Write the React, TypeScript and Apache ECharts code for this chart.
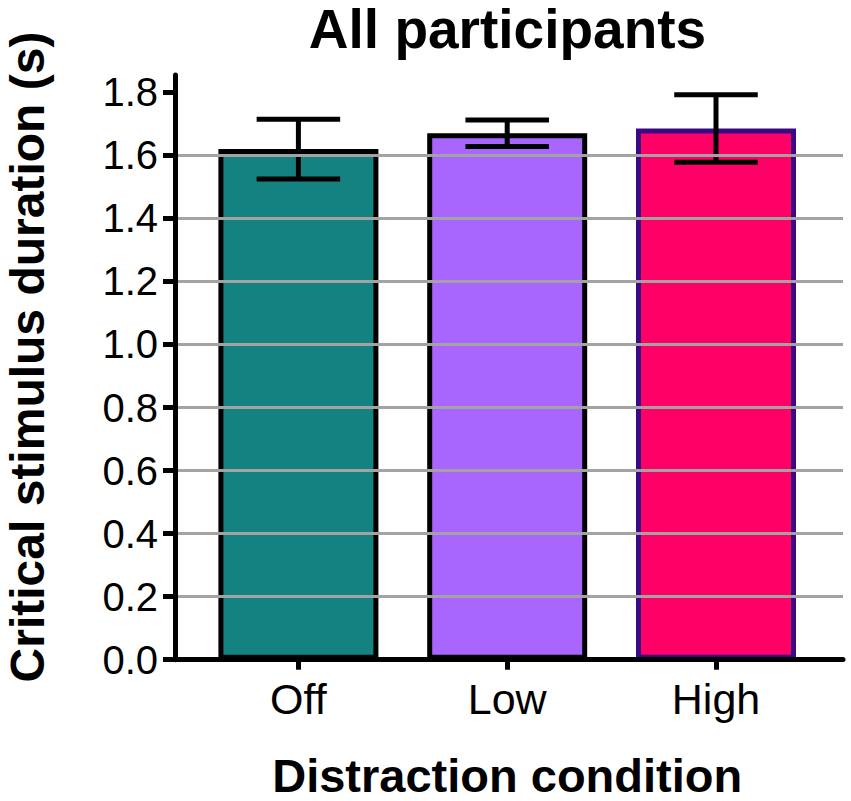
import React, { useEffect, useRef } from "react";
import * as echarts from "echarts";

const categories = ["Off", "Low", "High"];
const meanValues = [1.62, 1.67, 1.685];
const errorValues = [0.095, 0.042, 0.107];
const barColors = ["#138280", "#A966FF", "#FF0066"];
const barBorderColors = ["#000000", "#000000", "#3A0A84"];
const yTickValues = [0, 0.2, 0.4, 0.6, 0.8, 1.0, 1.2, 1.4, 1.6, 1.8];
const yMin = 0;
const yMax = 1.855;
const titleText = "All participants";
const xAxisTitle = "Distraction condition";
const yAxisTitle = "Critical stimulus duration (s)";

const FONT = "'Liberation Sans', Arial, Helvetica, sans-serif";

export default function App() {
  const ref = useRef<HTMLDivElement>(null);

  useEffect(() => {
    if (!ref.current) return;
    const chart = echarts.init(ref.current, undefined, { renderer: "svg" });

    const barData = meanValues.map((v, i) => ({
      value: v,
      itemStyle: {
        color: barColors[i],
        borderColor: barBorderColors[i],
        borderWidth: 5,
      },
    }));

    const errData = meanValues.map((v, i) => [i, v - errorValues[i], v + errorValues[i]]);

    const option: any = {
      animation: false,
      backgroundColor: "#ffffff",
      title: {
        text: titleText,
        left: 507.5,
        top: 1,
        padding: 0,
        textAlign: "center",
        textStyle: { fontFamily: FONT, fontWeight: "bold", fontSize: 55, color: "#000" },
      },
      grid: [
        { left: 194, right: 30.6, top: 75, bottom: 141.3, outerBoundsMode: "none", containLabel: false },
        { left: 175, right: 8, top: 75, bottom: 141.3, outerBoundsMode: "none", containLabel: false },
      ],
      xAxis: [
        {
          type: "category",
          gridIndex: 0,
          data: categories,
          axisLine: { show: false },
          axisTick: {
            show: true,
            alignWithLabel: true,
            length: 10,
            lineStyle: { color: "#000", width: 5 },
          },
          axisLabel: { fontSize: 43, color: "#000", fontFamily: FONT, margin: 18 },
          splitLine: { show: false },
          name: xAxisTitle,
          nameLocation: "middle",
          nameGap: 92,
          nameTextStyle: { fontFamily: FONT, fontWeight: "bold", fontSize: 47, color: "#000" },
        },
        {
          type: "value",
          gridIndex: 1,
          min: 0,
          max: 1,
          axisLine: { show: true, onZero: false, lineStyle: { color: "#000", width: 5 } },
          axisTick: { show: false },
          axisLabel: { show: false },
          splitLine: { show: false },
          z: 10,
        },
      ],
      yAxis: [
        { type: "value", gridIndex: 0, min: yMin, max: yMax, show: false, splitLine: { show: false } },
        {
          type: "value",
          gridIndex: 1,
          min: yMin,
          max: yMax,
          axisLine: { show: true, lineStyle: { color: "#000", width: 5 } },
          axisTick: {
            show: true,
            length: 12,
            customValues: yTickValues,
            lineStyle: { color: "#000", width: 5 },
          },
          axisLabel: {
            customValues: yTickValues,
            formatter: (v: number) => v.toFixed(1),
            fontSize: 40,
            color: "#000",
            fontFamily: FONT,
            margin: 17,
          },
          splitLine: {
            show: true,
            showMinLine: false,
            showMaxLine: false,
            lineStyle: { color: "#A3A3A3", width: 3 },
          },
          z: 10,
        },
      ],
      graphic: [
        {
          type: "text",
          x: 27,
          y: 357,
          rotation: Math.PI / 2,
          style: {
            text: yAxisTitle,
            fontFamily: FONT,
            fontWeight: "bold",
            fontSize: 48,
            fill: "#000",
            align: "center",
            verticalAlign: "middle",
          },
        },
      ],
      series: [
        {
          type: "bar",
          xAxisIndex: 0,
          yAxisIndex: 0,
          barWidth: 160,
          data: barData,
          z: 2,
        },
        {
          type: "custom",
          xAxisIndex: 0,
          yAxisIndex: 0,
          z: 5,
          data: errData,
          encode: { x: 0, y: [1, 2] },
          renderItem: (params: any, api: any) => {
            const idx = api.value(0);
            const lo = api.value(1);
            const hi = api.value(2);
            const pHi = api.coord([idx, hi]);
            const pLo = api.coord([idx, lo]);
            const half = api.size([1, 0])[0] * 0.2;
            const st = { stroke: "#000", lineWidth: 5 };
            return {
              type: "group",
              children: [
                { type: "line", shape: { x1: pHi[0], y1: pHi[1], x2: pLo[0], y2: pLo[1] }, style: st },
                { type: "line", shape: { x1: pHi[0] - half, y1: pHi[1], x2: pHi[0] + half, y2: pHi[1] }, style: st },
                { type: "line", shape: { x1: pLo[0] - half, y1: pLo[1], x2: pLo[0] + half, y2: pLo[1] }, style: st },
              ],
            };
          },
        },
      ],
    };

    chart.setOption(option);
    return () => {
      chart.dispose();
    };
  }, []);

  return (
    <div
      ref={ref}
      style={{ width: 851, height: 801, position: "absolute", left: 0, top: 0, background: "#fff" }}
    />
  );
}
